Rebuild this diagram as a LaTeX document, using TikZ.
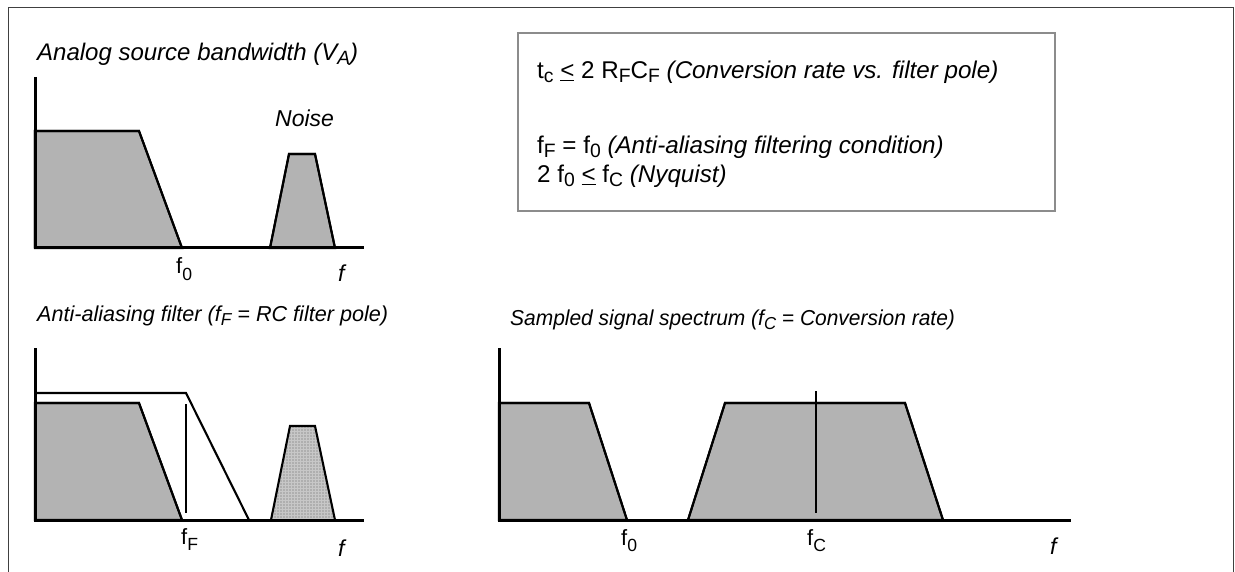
\documentclass[tikz,border=0pt]{standalone}
\usepackage{fontspec}
\setmainfont{Liberation Sans}
\usetikzlibrary{patterns}
\definecolor{specgray}{RGB}{179,179,179}
\definecolor{noisegray}{RGB}{175,175,175}
\makeatletter
\newcommand\lowsub[2][0.3ex]{\raisebox{-#1}{\fontsize{\the\dimexpr0.8\dimexpr\f@size pt\relax\relax}{0pt}\selectfont #2}}
\makeatother
\newcommand\leqline{\underline{<}}
\begin{document}
\begin{tikzpicture}[x=1pt,y=-1pt,
  txt/.style={inner sep=0pt,anchor=base west},
  lbl/.style={txt,font=\fontsize{22}{26}\selectfont},
  flbl/.style={txt,font=\fontsize{23}{26}\selectfont\itshape},
  boxtxt/.style={txt,font=\fontsize{24.2}{28}\selectfont},
  axis/.style={line width=3pt},
  spec/.style={draw=black,line width=2.1pt,fill=specgray,line join=miter},
  thin/.style={line width=1.1pt}]
\useasboundingbox (0,0) rectangle (1235,572);
% frame
\draw[line width=1pt,black!75] (8,572) -- (8,8) -- (1233,8) -- (1233,572);

% ---------- panel 1 ----------
\node[txt,font=\fontsize{24}{28}\selectfont\itshape] (t1) at (37,61) {Analog source bandwidth (V\lowsub{A})};
\fill[spec] (35,248) -- (35,131) -- (139,131) -- (182,248) -- cycle;
\fill[spec] (270,248) -- (289,154) -- (315,154) -- (335,248) -- cycle;
\draw[spec,fill=none] (35,248) -- (35,131) -- (139,131) -- (182,248);
\draw[spec,fill=none] (270,248) -- (289,154) -- (315,154) -- (335,248);
\draw[axis] (35,77) -- (35,248) -- (364,248);
\node[txt,font=\fontsize{23}{26}\selectfont\itshape] (noise) at (275,127) {Noise};
\node[lbl] (f01) at (176,274) {f\lowsub[0.55ex]{0}};
\node[flbl] (fa1) at (338,282) {f};

% ---------- box ----------
\draw[line width=2pt,black!45] (518,33) rectangle (1055,211);
\node[boxtxt] (l1) at (537,79) {t\lowsub{c} \leqline{} 2 R\lowsub{F}C\lowsub{F} \textit{(Conversion rate vs. filter pole)}};
\node[boxtxt] (l2) at (537,154) {f\lowsub{F} = f\lowsub{0} \textit{(Anti-aliasing filtering condition)}};
\node[boxtxt] (l3) at (537,183) {2 f\lowsub{0} \leqline{} f\lowsub{C} \textit{(Nyquist)}};

% ---------- panel 2 ----------
\node[txt,font=\fontsize{21.6}{26}\selectfont\itshape] (t2) at (37,322) {Anti-aliasing filter (f\lowsub{F} = RC filter pole)};
\draw[line width=2.1pt] (35,393) -- (186,393) -- (249,520);
\fill[spec] (35,520) -- (35,403) -- (139,403) -- (182,520) -- cycle;
\draw[spec,fill=none] (35,403) -- (139,403) -- (182,520);
\draw[thin] (186,404) -- (186,513);
\fill[noisegray] (271,520) -- (290,426) -- (315,426) -- (335,520) -- cycle;
\fill[pattern=grid,pattern color=black!22] (271,520) -- (290,426) -- (315,426) -- (335,520) -- cycle;
\draw[line width=2.1pt] (271,520) -- (290,426) -- (315,426) -- (335,520);
\draw[axis] (35,348) -- (35,520) -- (364,520);
\node[lbl] (fF) at (181,544) {f\lowsub[0.55ex]{F}};
\node[flbl] (fa2) at (338,556) {f};

% ---------- panel 3 ----------
\node[txt,font=\fontsize{21.6}{26}\selectfont\itshape] (t3) at (510,326) {\scalebox{0.97}[1]{Sampled signal spectrum (f\lowsub{C} = Conversion rate)}};
\fill[spec] (499,520) -- (499,403) -- (589,403) -- (627,520) -- cycle;
\draw[spec,fill=none] (499,403) -- (589,403) -- (627,520);
\fill[spec] (688,520) -- (725,403) -- (905,403) -- (943,520) -- cycle;
\draw[spec,fill=none] (688,520) -- (725,403) -- (905,403) -- (943,520);
\draw[thin] (816,391) -- (816,513);
\draw[axis] (499,348) -- (499,520) -- (1071,520);
\node[lbl] (f03) at (621,545) {f\lowsub[0.55ex]{0}};
\node[lbl] (fC) at (807,545) {f\lowsub[0.55ex]{C}};
\node[flbl] (fa3) at (1050,554) {f};
\end{tikzpicture}
\end{document}
